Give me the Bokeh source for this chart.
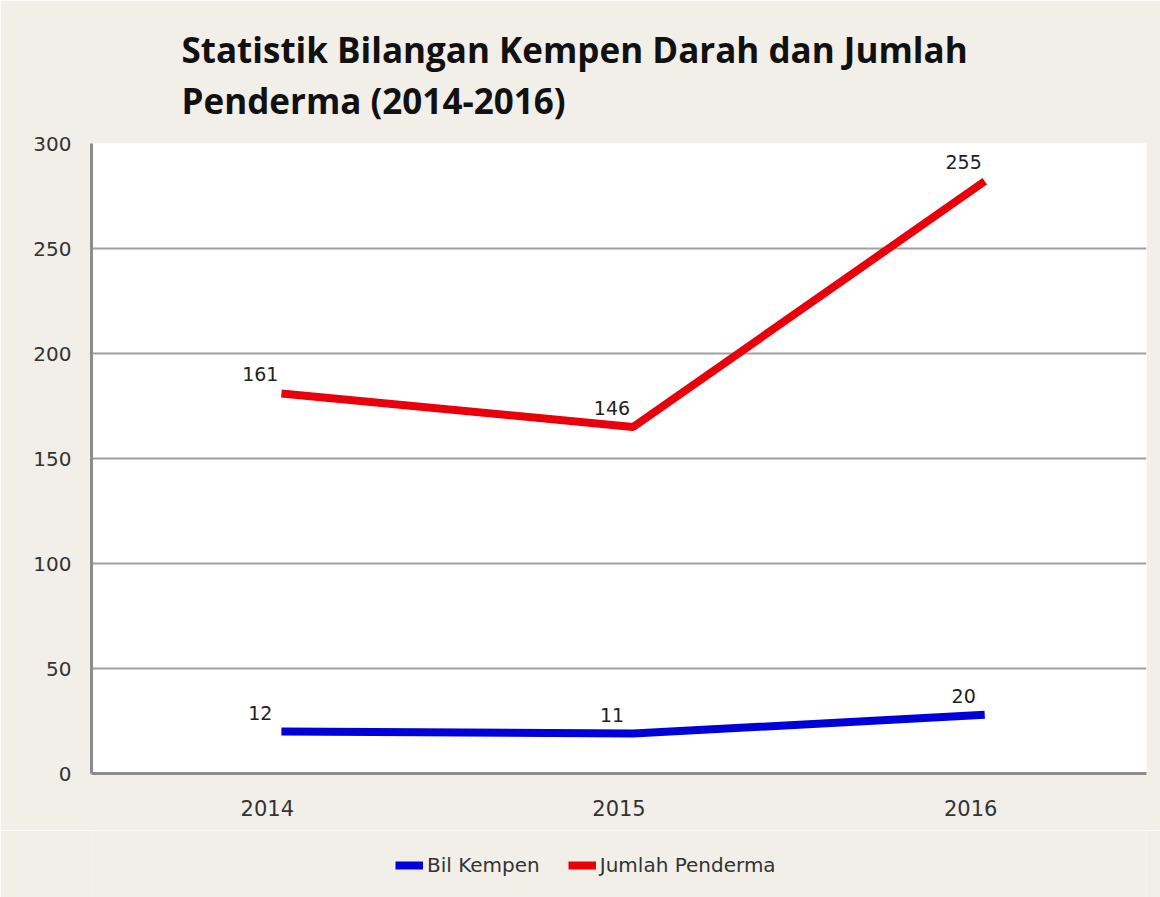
from bokeh.plotting import figure
from bokeh.models import (Range1d, Title, Legend, LegendItem, ColumnDataSource,
                          FixedTicker)
from bokeh.layouts import column
from bokeh.transform import dodge
from bokeh.core.properties import value
from bokeh.embed import file_html
from bokeh.resources import INLINE

# ---- data ----
years = ["2014", "2015", "2016"]
kempen_labels = [12, 11, 20]          # printed data labels
penderma_labels = [161, 146, 255]
kempen_plotted = [20, 19, 28]         # heights as drawn in the picture
penderma_plotted = [181, 165, 282]
y_ticks = [0, 50, 100, 150, 200, 250, 300]
series_names = ["Bil Kempen", "Jumlah Penderma"]
series_colors = ["#0000d8", "#e8000b"]
title_text = "Statistik Bilangan Kempen Darah dan Jumlah\nPenderma (2014-2016)"

BG = "#f2efe9"
FONT = "DejaVu Sans"

src = ColumnDataSource(dict(
    year=years,
    kempen=kempen_plotted, penderma=penderma_plotted,
    kempen_txt=[str(v) for v in kempen_labels],
    penderma_txt=[str(v) for v in penderma_labels],
))

p = figure(frame_width=1055, frame_height=630, x_range=years, y_range=Range1d(0, 300),
           output_backend="svg", toolbar_location=None,
           background_fill_color="white", border_fill_color=BG,
           min_border_left=91, min_border_right=14, min_border_top=143,
           min_border_bottom=57, outline_line_color=None)

p.add_layout(Title(text=title_text, align="left", offset=90,
                   text_font="Open Sans", text_font_size="35px",
                   text_line_height=1.1,
                   text_font_style="bold", text_color="#111111", standoff=38), "above")

xs = dodge("year", 0.04, range=p.x_range)
p.line(x=xs, y="kempen", source=src, line_color=series_colors[0], line_width=8)
p.line(x=xs, y="penderma", source=src, line_color=series_colors[1], line_width=8)

for col in ["kempen_txt", "penderma_txt"]:
    p.text(x=dodge("year", -0.02, range=p.x_range),
           y=col.replace("_txt", ""), text=col, source=src,
           text_font=value(FONT), text_font_size="19px", text_color="#222222",
           text_align="center", text_baseline="bottom", y_offset=-12)

# axes
for ax in (p.xaxis[0], p.yaxis[0]):
    ax.axis_line_color = "#8c8c8c"
    ax.axis_line_width = 3
    ax.major_tick_line_color = None
    ax.minor_tick_line_color = None
    ax.major_label_text_font = FONT
    ax.major_label_text_color = "#333333"
p.yaxis[0].major_label_text_font_size = "20px"
p.xaxis[0].major_label_text_font_size = "21px"
p.yaxis[0].ticker = FixedTicker(ticks=y_ticks)
p.yaxis[0].major_label_standoff = 14
p.xaxis[0].major_label_standoff = 20

p.xgrid.grid_line_color = None
p.ygrid.grid_line_color = "#a0a0a0"
p.ygrid.grid_line_width = 2
p.ygrid.ticker = FixedTicker(ticks=y_ticks)

# legend strip underneath the chart (its own lines fall outside its view range,
# only the legend swatches are visible)
lg = figure(width=1160, height=67, output_backend="svg", toolbar_location=None,
            x_range=Range1d(-2, -1), y_range=Range1d(-2, -1),
            x_axis_type=None, y_axis_type=None, min_border=0,
            background_fill_color=BG, border_fill_color=BG, outline_line_color=None)
lg.xgrid.visible = False
lg.ygrid.visible = False
items = []
for name, color, col in zip(series_names, series_colors, ["kempen", "penderma"]):
    r = lg.line(x=col, y=col, source=src, line_color=color, line_width=8)
    items.append(LegendItem(label=name, renderers=[r]))
legend = Legend(items=items, orientation="horizontal", location=(304, 20),
                border_line_color=None, background_fill_alpha=0,
                label_text_font=FONT, label_text_font_size="20px",
                label_text_color="#333333", glyph_width=28, glyph_height=20,
                label_standoff=4, spacing=28, margin=0, padding=2)
lg.add_layout(legend, "center")

layout = column(p, lg, spacing=0)
open("out.html", "w").write(file_html(layout, INLINE))
